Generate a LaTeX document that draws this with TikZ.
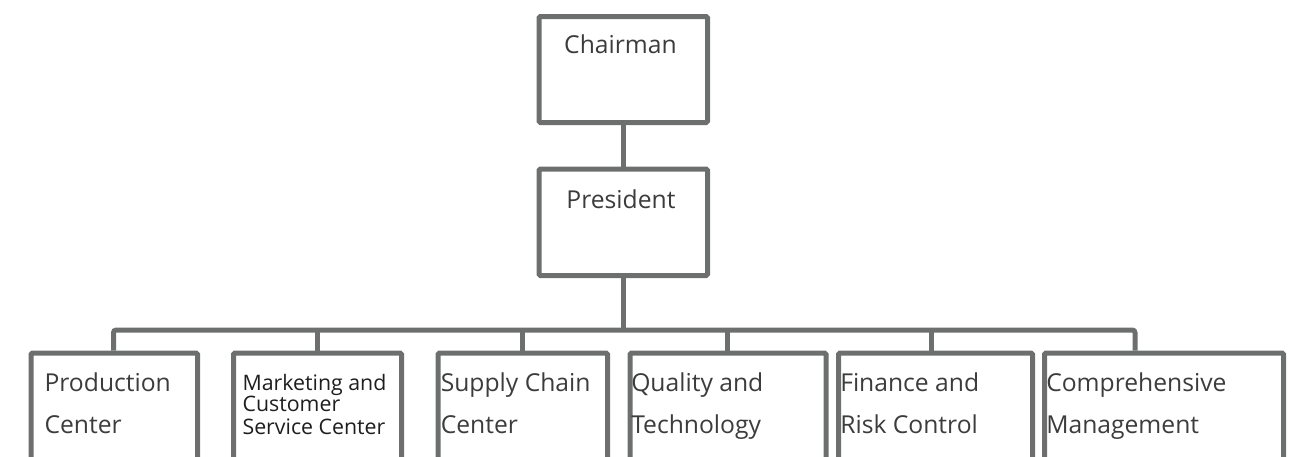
\documentclass[tikz,border=0pt]{standalone}
\usepackage{fontspec}
\setmainfont{Open Sans}
\usetikzlibrary{fit}
\definecolor{lg}{HTML}{6D6E6E}
\definecolor{tx}{HTML}{3C3C3C}
\definecolor{tk}{HTML}{1E1E1E}
\begin{document}
\begin{tikzpicture}[x=0.75pt,y=-0.75pt,
  box/.style={draw=lg, line width=3.75pt, rounded corners=1pt, inner sep=0pt},
  conn/.style={draw=lg, line width=3.75pt},
  big/.style={text=tx, inner sep=0pt, font=\fontsize{18.5}{31.7}\selectfont},
  small/.style={text=tk, inner sep=0pt, font=\fontsize{16}{16.3}\selectfont}]
\useasboundingbox (0,0) rectangle (1293,457);
% top boxes
\node[box, fit={(539,16.5) (707.5,122.5)}] (chair) {};
\node[box, fit={(539,169) (707.5,275.5)}] (pres) {};
\node[big, anchor=base] (chairT) at (620.5,53.3) {Chairman};
\node[big, anchor=base] (presT) at (621,208.3) {President};
% bottom boxes
\node[box, fit={(31,353) (197.5,490)}] (b1) {};
\node[box, fit={(233.5,353) (401.5,490)}] (b2) {};
\node[box, fit={(438,353) (607.5,490)}] (b3) {};
\node[box, fit={(630,353) (826,490)}] (b4) {};
\node[box, fit={(838.5,353) (1032.5,490)}] (b5) {};
\node[box, fit={(1044.5,353) (1283.5,490)}] (b6) {};
% texts
\node[big, anchor=base west] (t1) at (44.3,391.7) {\begin{tabular}[t]{@{}l@{}}Production\\Center\end{tabular}};
\node[small, anchor=base west] (t2) at (242.3,390) {\begin{tabular}[t]{@{}l@{}}Marketing and\\Customer\\Service Center\end{tabular}};
\node[big, anchor=base west] (t3) at (440.5,391.7) {\begin{tabular}[t]{@{}l@{}}Supply Chain\\Center\end{tabular}};
\node[big, anchor=base west] (t4) at (631,391.7) {\begin{tabular}[t]{@{}l@{}}Quality and\\Technology\end{tabular}};
\node[big, anchor=base west] (t5) at (840,391.7) {\begin{tabular}[t]{@{}l@{}}Finance and\\Risk Control\end{tabular}};
\node[big, anchor=base west] (t6) at (1046,391.7) {\begin{tabular}[t]{@{}l@{}}Comprehensive\\Management\end{tabular}};
% connectors
\coordinate (d1) at (113.5,330);
\coordinate (d2) at (317.5,330);
\coordinate (d3) at (522,330);
\coordinate (d4) at (727,330);
\coordinate (d5) at (931,330);
\coordinate (d6) at (1135,330);
\draw[conn] (chair.south) -- (pres.north);
\draw[conn] (pres.south) -- (pres.south |- d1);
\draw[conn, rounded corners=2pt] (b1.north -| d1) -- (d1) -- (d6) -- (b6.north -| d6);
\draw[conn] (d2) -- (d2 |- b2.north);
\draw[conn] (d3) -- (d3 |- b3.north);
\draw[conn] (d4) -- (d4 |- b4.north);
\draw[conn] (d5) -- (d5 |- b5.north);
\end{tikzpicture}
\end{document}
